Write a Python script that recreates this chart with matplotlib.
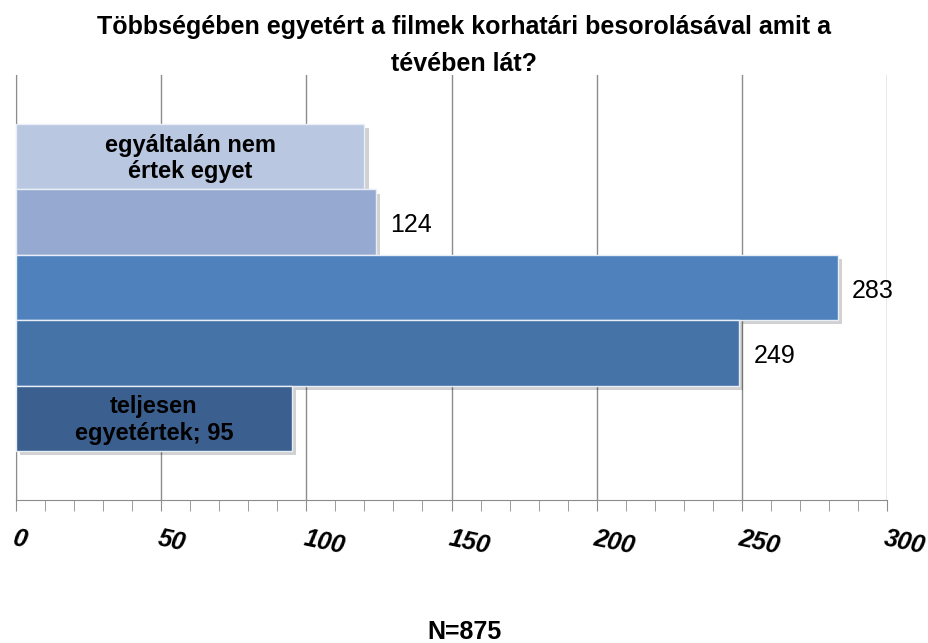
import matplotlib.pyplot as plt
from matplotlib import patheffects
from matplotlib.ticker import MultipleLocator

plt.rcParams['font.family'] = ['Liberation Sans', 'DejaVu Sans']

# data, top to bottom
categories = ['egyáltalán nem\nértek egyet', 'nem értek egyet', 'egyetértek', 'többnyire egyetértek', 'teljesen\negyetértek; 95']
values = [120, 124, 283, 249, 95]
colors = ['#B9C7E1', '#95A9D1', '#4F81BD', '#4573A8', '#3B5F8F']
title = 'Többségében egyetért a filmek korhatári besorolásával amit a\ntévében lát?'
note = 'N=875'

fig = plt.figure(figsize=(9.29, 6.43), dpi=100)
ax = fig.add_axes([16 / 929, 1 - 500 / 643, 871 / 929, 425 / 643])

pos = list(range(len(values)))
bars = ax.barh(pos, values, height=1.0, color=colors, edgecolor='#E8EEF6', linewidth=1.0, zorder=3)
for b in bars:
    b.set_path_effects([patheffects.SimplePatchShadow(offset=(3, -3), shadow_rgbFace='#000000', alpha=0.18),
                        patheffects.Normal()])

ax.set_ylim(len(values) - 0.5 + 0.75, -0.5 - 0.75)
ax.set_xlim(0, 300)
ax.xaxis.set_major_locator(MultipleLocator(50))
ax.xaxis.set_minor_locator(MultipleLocator(10))
ax.grid(axis='x', which='major', color='#8C8C8C', linewidth=1.0, zorder=0)
ax.set_yticks([])
for s in ['top', 'right']:
    ax.spines[s].set_visible(False)
for s in ['left', 'bottom']:
    ax.spines[s].set_color('#8C8C8C')
ax.tick_params(axis='x', which='both', length=8, color='#8C8C8C', pad=11)
for lbl in ax.get_xticklabels():
    lbl.set_fontsize(18)
    lbl.set_fontweight('bold')
    lbl.set_fontstyle('italic')
    lbl.set_rotation(-12)
    lbl.set_rotation_mode('anchor')
    lbl.set_ha('left')

# labels inside bars (first and last), numbers outside the others
ax.text(values[0] / 2, 0.03, categories[0], ha='center', va='center', fontsize=17, fontweight='bold', zorder=5)
ax.text(values[4] / 2, 4.03, categories[4], ha='center', va='center', fontsize=17, fontweight='bold', zorder=5)
for i in [1, 2, 3]:
    ax.text(values[i] + 5, i + 0.05, str(values[i]), ha='left', va='center', fontsize=18, zorder=5)

fig.text(0.5, 1 - 27 / 643, title.split('\n')[0], ha='center', va='center', fontsize=18, fontweight='bold')
fig.text(0.5, 1 - 64 / 643, title.split('\n')[1], ha='center', va='center', fontsize=18, fontweight='bold')
fig.text(0.5, 1 - 632 / 643, note, ha='center', va='center', fontsize=18, fontweight='bold')

fig.savefig('out.png', dpi=100)
